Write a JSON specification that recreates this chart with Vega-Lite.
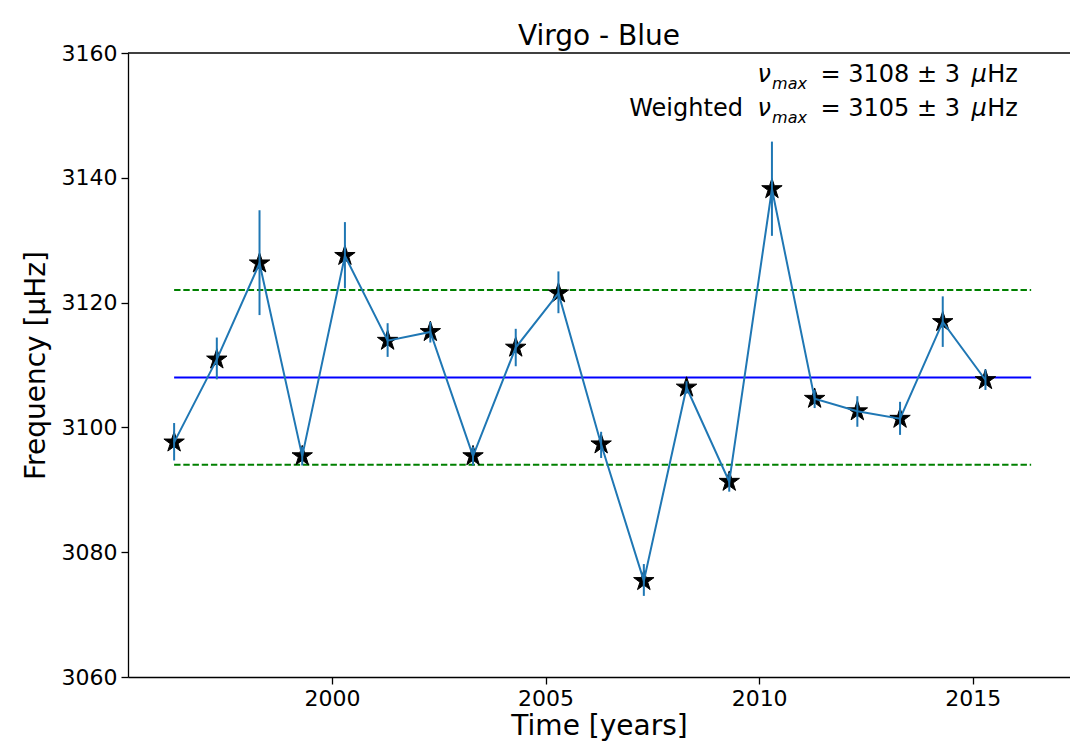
{
  "$schema": "https://vega.github.io/schema/vega-lite/v6.json",
  "autosize": {"type": "none"},
  "width": 942,
  "height": 624,
  "padding": {"left": 128, "top": 53, "right": 0, "bottom": 65},
  "background": "white",
  "config": {
    "font": "DejaVu Sans",
    "view": {"stroke": null},
    "axis": {
      "grid": false,
      "domainColor": "black",
      "domainWidth": 1.3,
      "tickColor": "black",
      "tickWidth": 1.3,
      "tickSize": 7,
      "labelColor": "black",
      "labelFont": "DejaVu Sans",
      "titleFont": "DejaVu Sans",
      "titleFontSize": 28,
      "titleFontWeight": "normal",
      "titleColor": "black",
      "labelPadding": 4
    }
  },
  "title": {"text": "Virgo - Blue", "fontSize": 28, "fontWeight": "normal", "font": "DejaVu Sans", "color": "black", "offset": -9, "anchor": "middle"},
  "datasets": {
    "pts": [
      {"year": 1996.3, "freq": 3097.6, "lo": 3094.7, "hi": 3100.7},
      {"year": 1997.3, "freq": 3110.9, "lo": 3107.7, "hi": 3114.4},
      {"year": 1998.3, "freq": 3126.3, "lo": 3118.0, "hi": 3134.8},
      {"year": 1999.3, "freq": 3095.4, "lo": 3093.9, "hi": 3096.9},
      {"year": 2000.3, "freq": 3127.5, "lo": 3122.3, "hi": 3132.9},
      {"year": 2001.3, "freq": 3113.9, "lo": 3111.3, "hi": 3116.7},
      {"year": 2002.3, "freq": 3115.3, "lo": 3113.6, "hi": 3116.9},
      {"year": 2003.3, "freq": 3095.4, "lo": 3093.9, "hi": 3096.9},
      {"year": 2004.3, "freq": 3112.8, "lo": 3109.8, "hi": 3115.8},
      {"year": 2005.3, "freq": 3121.5, "lo": 3118.3, "hi": 3125.0},
      {"year": 2006.3, "freq": 3097.3, "lo": 3095.1, "hi": 3099.3},
      {"year": 2007.3, "freq": 3075.4, "lo": 3073.0, "hi": 3078.1},
      {"year": 2008.3, "freq": 3106.4, "lo": 3105.4, "hi": 3107.4},
      {"year": 2009.3, "freq": 3091.3, "lo": 3089.7, "hi": 3092.7},
      {"year": 2010.3, "freq": 3138.2, "lo": 3130.7, "hi": 3145.8},
      {"year": 2011.3, "freq": 3104.6, "lo": 3103.1, "hi": 3106.0},
      {"year": 2012.3, "freq": 3102.6, "lo": 3100.1, "hi": 3105.0},
      {"year": 2013.3, "freq": 3101.4, "lo": 3098.8, "hi": 3104.1},
      {"year": 2014.3, "freq": 3116.9, "lo": 3112.9, "hi": 3121.0},
      {"year": 2015.3, "freq": 3107.6, "lo": 3106.0, "hi": 3109.3}
    ],
    "hl": [
      {"kind": "mean", "y": 3108, "x": 1996.3, "x2": 2016.37},
      {"kind": "upper", "y": 3122, "x": 1996.3, "x2": 2016.37},
      {"kind": "lower", "y": 3094, "x": 1996.3, "x2": 2016.37}
    ]
  },
  "layer": [
    {
      "data": {"name": "hl"},
      "transform": [{"filter": "datum.kind !== 'mean'"}],
      "mark": {"type": "rule", "color": "#008000", "strokeWidth": 2, "strokeDash": [6.4, 2.8]},
      "encoding": {
        "x": {"field": "x", "type": "quantitative", "scale": {"domain": [1995.22, 2017.28], "nice": false, "zero": false},
              "axis": {"values": [2000, 2005, 2010, 2015], "format": "d", "title": "Time [years]", "titlePadding": 3, "labelFontSize": 22}},
        "x2": {"field": "x2"},
        "y": {"field": "y", "type": "quantitative", "scale": {"domain": [3060, 3160], "nice": false, "zero": false},
              "axis": {"values": [3060, 3080, 3100, 3120, 3140, 3160], "format": "d", "title": "Frequency [μHz]", "titlePadding": 11, "labelFontSize": 22}}
      }
    },
    {
      "data": {"name": "hl"},
      "transform": [{"filter": "datum.kind === 'mean'"}],
      "mark": {"type": "rule", "color": "#0000ff", "strokeWidth": 2},
      "encoding": {
        "x": {"field": "x", "type": "quantitative"},
        "x2": {"field": "x2"},
        "y": {"field": "y", "type": "quantitative"}
      }
    },
    {
      "data": {"name": "pts"},
      "mark": {"type": "point", "shape": "M0,-1L0.2245,-0.309L0.951,-0.309L0.363,0.118L0.588,0.809L0,0.382L-0.588,0.809L-0.363,0.118L-0.951,-0.309L-0.2245,-0.309Z", "filled": true, "color": "black", "stroke": "black", "strokeWidth": 1, "size": 460, "opacity": 1},
      "encoding": {
        "x": {"field": "year", "type": "quantitative"},
        "y": {"field": "freq", "type": "quantitative"}
      }
    },
    {
      "data": {"name": "pts"},
      "mark": {"type": "rule", "color": "#1f77b4", "strokeWidth": 2},
      "encoding": {
        "x": {"field": "year", "type": "quantitative"},
        "y": {"field": "lo", "type": "quantitative"},
        "y2": {"field": "hi"}
      }
    },
    {
      "data": {"name": "pts"},
      "mark": {"type": "line", "color": "#1f77b4", "strokeWidth": 2},
      "encoding": {
        "x": {"field": "year", "type": "quantitative"},
        "y": {"field": "freq", "type": "quantitative"}
      }
    },
    {
      "data": {"values": [{}]},
      "mark": {"type": "rule", "color": "black", "strokeWidth": 1.3},
      "encoding": {"y": {"datum": 3160}}
    },
    {
      "data": {"values": [{}]},
      "mark": {"type": "text", "align": "right", "baseline": "alphabetic", "fontSize": 24, "lineHeight": 34, "color": "black", "font": "DejaVu Sans"},
      "encoding": {
        "x": {"datum": 2016.06},
        "y": {"datum": 3155.35},
        "text": {"value": ["Hz", "Hz"]}
      }
    },
    {
      "data": {"values": [{}]},
      "mark": {"type": "text", "align": "right", "baseline": "alphabetic", "fontSize": 24, "fontStyle": "italic", "lineHeight": 34, "color": "black", "font": "DejaVu Sans", "dx": -31},
      "encoding": {
        "x": {"datum": 2016.06},
        "y": {"datum": 3155.35},
        "text": {"value": ["μ", "μ"]}
      }
    },
    {
      "data": {"values": [{}]},
      "mark": {"type": "text", "align": "right", "baseline": "alphabetic", "fontSize": 24, "lineHeight": 34, "color": "black", "font": "DejaVu Sans", "dx": -58},
      "encoding": {
        "x": {"datum": 2016.06},
        "y": {"datum": 3155.35},
        "text": {"value": ["= 3108 ± 3", "= 3105 ± 3"]}
      }
    },
    {
      "data": {"values": [{}]},
      "mark": {"type": "text", "align": "right", "baseline": "alphabetic", "fontSize": 16, "fontStyle": "italic", "lineHeight": 34, "color": "black", "font": "DejaVu Sans", "dx": -211, "dy": 7},
      "encoding": {
        "x": {"datum": 2016.06},
        "y": {"datum": 3155.35},
        "text": {"value": ["max", "max"]}
      }
    },
    {
      "data": {"values": [{}]},
      "mark": {"type": "text", "align": "right", "baseline": "alphabetic", "fontSize": 24, "fontStyle": "italic", "lineHeight": 34, "color": "black", "font": "DejaVu Sans", "dx": -247},
      "encoding": {
        "x": {"datum": 2016.06},
        "y": {"datum": 3155.35},
        "text": {"value": ["ν", "ν"]}
      }
    },
    {
      "data": {"values": [{}]},
      "mark": {"type": "text", "align": "right", "baseline": "alphabetic", "fontSize": 24, "color": "black", "font": "DejaVu Sans", "dx": -275},
      "encoding": {
        "x": {"datum": 2016.06},
        "y": {"datum": 3149.9},
        "text": {"value": "Weighted"}
      }
    }
  ]
}
